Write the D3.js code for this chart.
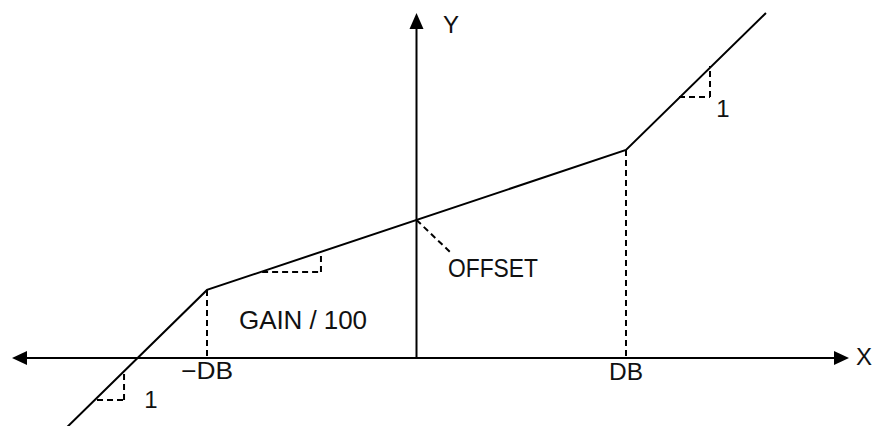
<!DOCTYPE html>
<html>
<head>
<meta charset="utf-8">
<script src="https://cdn.jsdelivr.net/npm/d3@7"></script>
<style>
  html, body { margin: 0; padding: 0; background: #fff; }
  svg { display: block; }
  text { font-family: "Liberation Sans", Arial, sans-serif; fill: #111; }
</style>
</head>
<body>
<svg id="chart" width="873" height="426"></svg>
<script>
// ---- data (in units of DB) ----
const curveX = [-1.668, -1, 1, 1.668];
const curveY = [-0.33, 0.325, 0.993, 1.647];
const breakX = [-1, 1];
const breakY = [0.325, 0.993];
const breakLabels = ["\u2212DB", "DB"];
const offsetValue = 0.659;
const offsetLeader = [0.16, 0.506];
// slope triangles: [xStart, xCorner, yBase, yTop]
const triMid = [-0.737, -0.456, 0.41, 0.506];
const triRight = [1.253, 1.401, 1.246, 1.394];
const triLeft = [-1.525, -1.396, -0.2, -0.071];
const axisLabels = ["X", "Y"];
const gainLabel = "GAIN / 100";
const offsetLabel = "OFFSET";
const slopeLabel = "1";

const svg = d3.select("#chart");
const x = d3.scaleLinear().domain([-1, 1]).range([207, 626]);
const y = d3.scaleLinear().domain([0, 1]).range([358, 148.5]);
const x0 = x(0), y0 = y(0);

// axes
svg.append("line").attr("x1", 26).attr("x2", 836).attr("y1", y0).attr("y2", y0)
  .attr("stroke", "#000").attr("stroke-width", 2);
svg.append("line").attr("x1", x0).attr("x2", x0).attr("y1", y0).attr("y2", 27)
  .attr("stroke", "#000").attr("stroke-width", 2);
// arrowheads
const arrow = (pts) => svg.append("path").attr("d", d3.line()(pts) + "Z").attr("fill", "#000");
arrow([[849, y0], [834, y0 - 7], [834, y0 + 7]]);
arrow([[12, y0], [27, y0 - 7], [27, y0 + 7]]);
arrow([[x0, 13], [x0 - 7, 29], [x0 + 7, 29]]);

// dashed verticals at breakpoints
const dash = (x1, y1, x2, y2) => svg.append("line")
  .attr("x1", x1).attr("y1", y1).attr("x2", x2).attr("y2", y2)
  .attr("stroke", "#000").attr("stroke-width", 2).attr("stroke-dasharray", "6,4");
breakX.forEach((bx, i) => dash(x(bx), y(breakY[i]), x(bx), y0));

// offset leader
dash(x(0), y(offsetValue), x(offsetLeader[0]), y(offsetLeader[1]));

// slope triangles
[triMid, triRight, triLeft].forEach(t => {
  dash(x(t[0]), y(t[2]), x(t[1]), y(t[2]));
  dash(x(t[1]), y(t[2]), x(t[1]), y(t[3]));
});

// main curve
const pts = curveX.map((d, i) => [x(d), y(curveY[i])]);
svg.append("path").attr("d", d3.line()(pts)).attr("fill", "none")
  .attr("stroke", "#000").attr("stroke-width", 2).attr("stroke-linejoin", "miter");

// labels
const label = (t, px, py, size, anchor) => svg.append("text")
  .attr("x", px).attr("y", py).attr("font-size", size)
  .attr("text-anchor", anchor || "start").text(t);

label(axisLabels[0], 856, 365, 24);
label(axisLabels[1], 443, 33, 24);
label(breakLabels[0], x(breakX[0]), 379, 24, "middle").attr("textLength", 52).attr("lengthAdjust", "spacingAndGlyphs");
label(breakLabels[1], x(breakX[1]), 380, 24, "middle").attr("textLength", 34).attr("lengthAdjust", "spacingAndGlyphs");
label(offsetLabel, 448, 277, 25).attr("textLength", 90).attr("lengthAdjust", "spacingAndGlyphs");
label(gainLabel, 239, 329, 26).attr("textLength", 128).attr("lengthAdjust", "spacing");
label(slopeLabel, 723, 117, 24, "middle");
label(slopeLabel, 151, 408, 24, "middle");
</script>
</body>
</html>
